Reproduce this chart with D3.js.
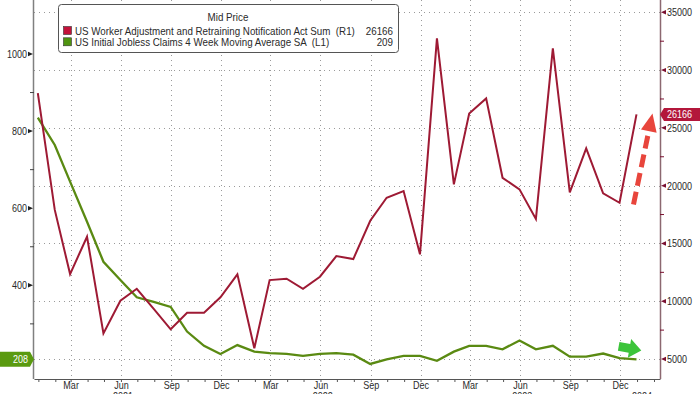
<!DOCTYPE html>
<html>
<head>
<meta charset="utf-8">
<script src="https://cdn.jsdelivr.net/npm/d3@7"></script>
<style>
  body { margin: 0; background: #fff; }
  svg { display: block; }
  text { font-family: "Liberation Sans", Arial, sans-serif; font-size: 11px; fill: #2a2a2a; }
</style>
</head>
<body>
<svg id="chart" width="700" height="394"></svg>
<script>
// monthly points, Dec 2020 .. Dec 2023 (plotted at month end)
var monthStarts = d3.timeMonth.range(new Date(2020, 11, 1), new Date(2024, 0, 1));

// US WARN Act notices, sum (right axis)
var warnSum = [28000, 17900, 12350, 15580, 7220, 10040, 11080, 9330, 7570, 9000, 9000, 10340,
               12330, 5930, 11830, 11950, 11080, 12120, 13910, 13650, 16960, 18950, 19530, 14060,
               32740, 20110, 26250, 27550, 20680, 19680, 17110, 31880, 19420, 23230, 19330, 18520,
               26166];

// initial jobless claims, 4 week moving average SA, thousands (left axis)
var joblessMA = [835, 764, 669, 565, 461, 414, 369, 357, 344, 280, 243, 222,
                 245, 228, 224, 222, 217, 222, 224, 220, 196, 208, 217, 217,
                 204, 228, 243, 243, 234, 257, 234, 243, 215, 215, 223, 211,
                 208];

var leftTicks = [400, 600, 800, 1000];
var leftMinor = [300, 500, 700, 900];
var rightTicks = [5000, 10000, 15000, 20000, 25000, 30000, 35000];
var rightMinor = [7500, 12500, 17500, 22500, 27500, 32500];
var yearLabels = ["2021", "2022", "2023", "2024"];

var legendTitle = "Mid Price";
var legendRows = [
  { name: "US Worker Adjustment and Retraining Notification Act Sum  (R1)", last: "26166", color: "#c4123a" },
  { name: "US Initial Jobless Claims 4 Week Moving Average SA  (L1)", last: "209", color: "#4f9410" }
];

var redLine = "#9e1a34", greenLine = "#5a8a12";

var svg = d3.select("#chart");
var pLeft = 34, pRight = 660, pTop = 0, pBottom = 379;

var dates = monthStarts.map(function(d) { return d3.timeDay.offset(d3.timeMonth.offset(d, 1), -1); });

var x = d3.scaleTime()
    .domain([new Date(2020, 11, 24), new Date(2024, 1, 12)])
    .range([pLeft, pRight]);
var yL = d3.scaleLinear().domain([157, 1140]).range([pBottom, pTop]);
var yR = d3.scaleLinear().domain([3270, 36064]).range([pBottom, pTop]);

// squeeze text horizontally (bloomberg font is narrow), keeping its anchor point
function narrow(k) {
  return function(sel) {
    sel.each(function() {
      var t = d3.select(this);
      var tx = +(t.attr("x") || 0);
      t.attr("x", tx / k).attr("transform", "scale(" + k + ",1)");
    });
  };
}
var tickNarrow = narrow(0.82), legendNarrow = narrow(0.89);

// grid
var grid = svg.append("g")
    .attr("stroke", "#9a9a9a").attr("stroke-dasharray", "1,4").attr("stroke-width", 1);
grid.selectAll("line.h").data(rightTicks).enter().append("line")
    .attr("x1", pLeft).attr("x2", pRight)
    .attr("y1", function(d) { return Math.round(yR(d)) + 0.5; })
    .attr("y2", function(d) { return Math.round(yR(d)) + 0.5; });
var quarterMonths = d3.timeMonth.range(new Date(2021, 0, 1), new Date(2024, 1, 1))
    .filter(function(d) { return d.getMonth() % 3 === 2; });
grid.selectAll("line.v").data(quarterMonths).enter().append("line")
    .attr("y1", pTop).attr("y2", pBottom)
    .attr("x1", function(d) { return Math.round(x(d)) + 0.5; })
    .attr("x2", function(d) { return Math.round(x(d)) + 0.5; });

// bottom axis
var xAxis = svg.append("g")
    .attr("transform", "translate(0," + pBottom + ")")
    .call(d3.axisBottom(x)
        .ticks(d3.timeMonth.every(1))
        .tickSize(3)
        .tickSizeOuter(0)
        .tickFormat(function(d) { return d.getMonth() % 3 === 2 ? d3.timeFormat("%b")(d) : ""; }));
xAxis.attr("font-family", null).attr("font-size", null);
xAxis.select(".domain").attr("stroke", "#555");
xAxis.selectAll(".tick line").attr("stroke", "#555");
xAxis.selectAll(".tick text").attr("y", 2).attr("dy", "0.71em").attr("fill", "#2a2a2a").call(tickNarrow);

// year row sits mostly below the frame, as in the original
svg.append("g").selectAll("text").data(yearLabels).enter().append("text")
    .attr("x", function(d, i) { return i < 3 ? x(new Date(+d, 5, 5)) : x(new Date(+d, 0, 10)); })
    .attr("y", 400.5)
    .attr("text-anchor", "middle")
    .text(function(d) { return d; })
    .call(tickNarrow);

// left axis
var lAxis = svg.append("g")
    .attr("transform", "translate(" + pLeft + ",0)")
    .call(d3.axisLeft(yL).tickValues(leftTicks).tickSize(0).tickPadding(7).tickFormat(d3.format("d")));
lAxis.attr("font-family", null).attr("font-size", null);
lAxis.select(".domain").remove();
lAxis.selectAll(".tick text").attr("fill", "#2a2a2a").call(tickNarrow);
svg.append("line").attr("x1", pLeft - 0.5).attr("x2", pLeft - 0.5).attr("y1", pTop).attr("y2", pBottom)
    .attr("stroke", "#808080").attr("stroke-width", 1.5);
svg.append("g").selectAll("path").data(leftTicks).enter().append("path")
    .attr("d", function(d) { var y = yL(d); return "M" + (pLeft - 1) + "," + y + "L" + (pLeft - 6) + "," + (y - 2.2) + "L" + (pLeft - 6) + "," + (y + 2.2) + "Z"; })
    .attr("fill", "#222");
svg.append("g").selectAll("line").data(leftMinor).enter().append("line")
    .attr("x1", pLeft - 4).attr("x2", pLeft).attr("y1", function(d) { return yL(d); }).attr("y2", function(d) { return yL(d); })
    .attr("stroke", "#444");

// right axis
var rAxis = svg.append("g")
    .attr("transform", "translate(" + pRight + ",0)")
    .call(d3.axisRight(yR).tickValues(rightTicks).tickSize(0).tickPadding(7).tickFormat(d3.format("d")));
rAxis.attr("font-family", null).attr("font-size", null);
rAxis.select(".domain").remove();
rAxis.selectAll(".tick text").attr("fill", "#2a2a2a").call(tickNarrow);
svg.append("line").attr("x1", pRight + 0.5).attr("x2", pRight + 0.5).attr("y1", pTop).attr("y2", pBottom)
    .attr("stroke", "#8c6870").attr("stroke-width", 1.5);
svg.append("g").selectAll("path").data(rightTicks).enter().append("path")
    .attr("d", function(d) { var y = yR(d); return "M" + (pRight + 1) + "," + y + "L" + (pRight + 6) + "," + (y - 2.2) + "L" + (pRight + 6) + "," + (y + 2.2) + "Z"; })
    .attr("fill", "#7a1030");
svg.append("g").selectAll("line").data(rightMinor).enter().append("line")
    .attr("x1", pRight).attr("x2", pRight + 4).attr("y1", function(d) { return yR(d); }).attr("y2", function(d) { return yR(d); })
    .attr("stroke", "#7a1030");

// series
var plot = svg.append("g");
plot.append("path").datum(joblessMA)
    .attr("fill", "none").attr("stroke", greenLine).attr("stroke-width", 2.3)
    .attr("d", d3.line().x(function(d, i) { return x(dates[i]); }).y(function(d) { return yL(d); }));
plot.append("path").datum(warnSum)
    .attr("fill", "none").attr("stroke", redLine).attr("stroke-width", 2)
    .attr("d", d3.line().x(function(d, i) { return x(dates[i]); }).y(function(d) { return yR(d); }));

// last value tags
var lastG = joblessMA[joblessMA.length - 1];
var gy = yL(lastG);
svg.append("path")
    .attr("d", "M0," + (gy - 7.5) + "L30," + (gy - 7.5) + "L34," + gy + "L30," + (gy + 7.5) + "L0," + (gy + 7.5) + "Z")
    .attr("fill", "#5a9a10");
svg.append("text").attr("x", 28).attr("y", gy + 4).attr("text-anchor", "end")
    .style("fill", "#fff").text(lastG).call(tickNarrow);

var lastR = warnSum[warnSum.length - 1];
var ry = yR(lastR);
svg.append("path")
    .attr("d", "M" + pRight + "," + ry + "L" + (pRight + 4) + "," + (ry - 6.5) + "L700," + (ry - 6.5) + "L700," + (ry + 6.5) + "L" + (pRight + 4) + "," + (ry + 6.5) + "Z")
    .attr("fill", "#b3173b");
svg.append("text").attr("x", pRight + 7).attr("y", ry + 4)
    .style("fill", "#fff").text(lastR).call(tickNarrow);

// annotations: red dashed arrow up, green arrow flat
var lastX = x(dates[dates.length - 1]);
var tip = [lastX + 16, ry - 1], tail = [lastX - 3, ry + 90];
var dx = tip[0] - tail[0], dy = tip[1] - tail[1], len = Math.sqrt(dx * dx + dy * dy);
var ux = dx / len, uy = dy / len, px = -uy, py = ux;
var base = [tip[0] - 18 * ux, tip[1] - 18 * uy];
svg.append("line")
    .attr("x1", tail[0]).attr("y1", tail[1]).attr("x2", base[0]).attr("y2", base[1])
    .attr("stroke", "#e8453c").attr("stroke-width", 5).attr("stroke-dasharray", "13,6");
svg.append("path")
    .attr("d", "M" + tip[0] + "," + tip[1] +
               "L" + (base[0] + 8 * px) + "," + (base[1] + 8 * py) +
               "L" + (base[0] - 8 * px) + "," + (base[1] - 8 * py) + "Z")
    .attr("fill", "#e8453c");

svg.append("path")
    .attr("transform", "translate(" + (lastX - 7) + "," + (gy - 11) + ") rotate(10)")
    .attr("d", "M-11,-4.5L0,-4.5L0,-9.5L12,0L0,9.5L0,4.5L-11,4.5Z")
    .attr("fill", "#3cc43a");

// legend
var lg = svg.append("g").attr("transform", "translate(58,4)");
lg.append("rect").attr("x", 0.5).attr("y", 0.5).attr("width", 340).attr("height", 48).attr("rx", 3)
    .attr("fill", "#fff").attr("stroke", "#555");
lg.append("text").attr("x", 170).attr("y", 17).attr("text-anchor", "middle").text(legendTitle).call(legendNarrow);
var rows = lg.selectAll("g.row").data(legendRows).enter().append("g")
    .attr("transform", function(d, i) { return "translate(0," + (22 + i * 11.3) + ")"; });
rows.append("rect").attr("x", 5.5).attr("y", 0.5).attr("width", 8).attr("height", 8)
    .attr("fill", function(d) { return d.color; }).attr("stroke", "#333").attr("stroke-width", 0.6);
rows.append("text").attr("x", 17).attr("y", 8.5).style("white-space", "pre")
    .text(function(d) { return d.name; }).call(legendNarrow);
rows.append("text").attr("x", 335).attr("y", 8.5).attr("text-anchor", "end")
    .text(function(d) { return d.last; }).call(legendNarrow);
</script>
</body>
</html>
